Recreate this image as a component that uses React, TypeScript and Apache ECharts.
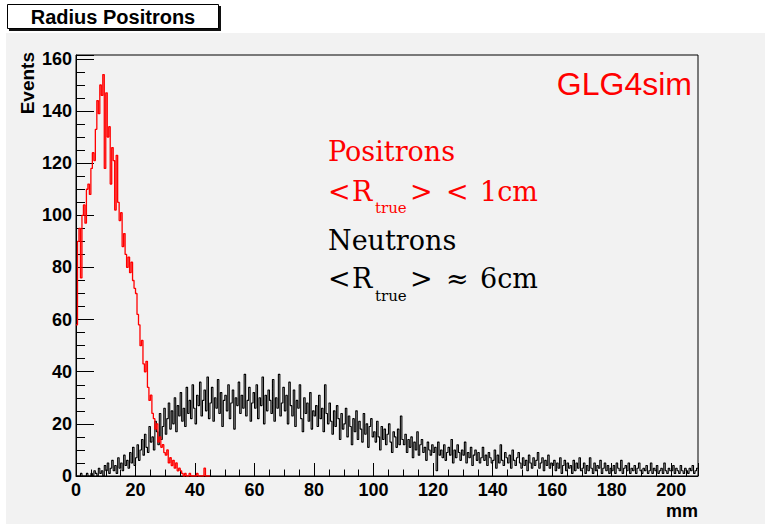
import React, { useEffect, useRef } from "react";
import * as echarts from "echarts";

// Positron radius histogram (0.5 mm bins, 0–45 mm)
const positronBin = 0.5;
const positrons = [
  58, 90, 95, 76, 100, 104, 97, 110, 112, 108,
  118, 124, 121, 133, 144, 139, 150, 146, 154, 118,
  147, 130, 134, 112, 126, 121, 102, 123, 105, 98,
  101, 88, 93, 85, 80, 84, 78, 82, 75, 72,
  70, 62, 58, 50, 52, 43, 40, 44, 34, 29,
  31, 24, 22, 18, 20, 13, 15, 11, 12, 9,
  8, 10, 5, 7, 4, 6, 3, 5, 2, 3,
  2, 1, 0, 1, 0, 0, 1, 0, 0, 0,
  0, 1, 0, 0, 0, 0, 3, 0, 0, 0,
];

// Neutron radius histogram (0.5 mm bins, 0–209 mm)
const neutronBin = 0.5;
const neutrons = [
  0, 0, 0, 1, 0, 0, 0, 1, 0, 0, 1, 0, 2, 1, 0, 3, 1, 2, 0, 4,
  2, 5, 1, 3, 6, 2, 4, 1, 7, 3, 5, 2, 8, 4, 6, 3, 9, 5, 11, 4,
  7, 12, 6, 10, 14, 8, 16, 11, 9, 19, 13, 15, 10, 21, 17, 12, 24, 14, 19, 26,
  16, 22, 28, 18, 25, 20, 30, 17, 27, 23, 32, 21, 26, 19, 34, 24, 29, 22, 35, 26,
  20, 31, 27, 36, 23, 29, 33, 25, 38, 22, 28, 34, 21, 30, 26, 37, 24, 32, 19, 29,
  31, 25, 35, 22, 28, 33, 18, 30, 27, 36, 24, 31, 26, 39, 23, 29, 34, 21, 28, 32,
  26, 35, 22, 30, 27, 38, 20, 31, 25, 33, 29, 24, 37, 21, 30, 26, 39, 23, 28, 34,
  25, 31, 20, 36, 27, 23, 33, 19, 29, 26, 35, 22, 17, 30, 24, 28, 21, 32, 18, 25,
  23, 27, 19, 31, 22, 26, 17, 35, 24, 20, 28, 21, 16, 25, 19, 27, 22, 14, 24, 18,
  20, 26, 15, 23, 19, 12, 22, 17, 25, 14, 21, 18, 13, 24, 16, 20, 11, 19, 22, 15,
  17, 13, 21, 15, 10, 19, 14, 18, 12, 16, 20, 13, 9, 17, 15, 11, 18, 12, 23, 14,
  12, 16, 9, 14, 11, 15, 7, 13, 10, 17, 8, 12, 14, 9, 11, 6, 13, 10, 8, 12,
  9, 11, 2, 13, 8, 10, 7, 12, 6, 9, 11, 8, 14, 5, 10, 7, 12, 9, 6, 10,
  8, 13, 5, 9, 7, 11, 4, 8, 10, 6, 9, 5, 7, 11, 6, 8, 4, 9, 7, 5,
  6, 10, 3, 8, 5, 12, 6, 4, 9, 7, 5, 8, 3, 10, 6, 4, 7, 9, 5, 3,
  7, 4, 6, 2, 8, 5, 3, 7, 4, 6, 9, 3, 5, 7, 2, 6, 4, 8, 3, 5,
  4, 6, 2, 5, 3, 7, 1, 4, 6, 2, 5, 3, 4, 1, 6, 2, 5, 3, 7, 2,
  3, 5, 1, 4, 2, 7, 3, 1, 5, 2, 4, 3, 6, 1, 3, 5, 2, 4, 1, 3,
  2, 4, 1, 5, 3, 2, 6, 1, 3, 4, 2, 5, 1, 3, 2, 4, 1, 3, 5, 2,
  1, 3, 2, 4, 1, 2, 5, 1, 3, 2, 4, 1, 2, 3, 1, 5, 2, 1, 3, 2,
  2, 4, 1, 3, 2, 1, 4, 2, 1, 3, 2, 1, 3, 2, 4, 1, 2, 3,
];

const xMax = 209;
const yMax = 161.5;
const xLabelMax = 200;
const yLabelMax = 160;
const tickStep = 20;

function toSteps(vals: number[], w: number): number[][] {
  const d = vals.map((v, i) => [i * w, v]);
  d.push([vals.length * w, vals[vals.length - 1]]);
  return d;
}

const labelFont = "'Liberation Sans', Arial, sans-serif";
const serifFont = "'DejaVu Serif', serif";

function txt(x: number, y: number, text: string, fill: string, font: string, align = "left") {
  return { type: "text", z: 12, x, y, style: { text, fill, font, align, verticalAlign: "middle" } };
}

export default function App() {
  const ref = useRef<HTMLDivElement>(null);
  useEffect(() => {
    if (!ref.current) return;
    const chart = echarts.init(ref.current, undefined, { renderer: "svg" });
    const fmt = (limit: number) => (v: number) =>
      Math.abs(v % tickStep) < 1e-9 && v <= limit ? String(v) : "";
    const big = `27px ${serifFont}`;
    const sub = `15px ${serifFont}`;
    chart.setOption({
      animation: false,
      backgroundColor: "#ffffff",
      grid: {
        left: 76,
        top: 55,
        right: 67,
        bottom: 48,
        show: true,
        backgroundColor: "#f2f2f2",
        borderColor: "#000",
        borderWidth: 1,
      },
      xAxis: {
        type: "value",
        min: 0,
        max: xMax,
        interval: tickStep,
        axisLine: { show: true, onZero: false, lineStyle: { color: "#000", width: 1 } },
        axisTick: { show: true, inside: true, length: 13, lineStyle: { color: "#000" } },
        minorTick: { show: true, splitNumber: 4, length: 6.5, lineStyle: { color: "#000" } },
        splitLine: { show: false },
        axisLabel: {
          formatter: fmt(xLabelMax),
          color: "#000",
          fontFamily: labelFont,
          fontWeight: "bold",
          fontSize: 18,
          margin: 5,
        },
      },
      yAxis: {
        type: "value",
        min: 0,
        max: yMax,
        interval: tickStep,
        axisLine: { show: true, onZero: false, lineStyle: { color: "#000", width: 1 } },
        axisTick: { show: true, inside: true, length: 18, lineStyle: { color: "#000" } },
        minorTick: { show: true, splitNumber: 4, length: 9, lineStyle: { color: "#000" } },
        splitLine: { show: false },
        axisLabel: {
          formatter: fmt(yLabelMax),
          color: "#000",
          fontFamily: labelFont,
          fontWeight: "bold",
          fontSize: 18,
          margin: 4,
        },
      },
      series: [
        {
          name: "Neutrons",
          type: "line",
          step: "end",
          showSymbol: false,
          data: toSteps(neutrons, neutronBin),
          lineStyle: { color: "#000", width: 1.1 },
          itemStyle: { color: "#000" },
          z: 2,
        },
        {
          name: "Positrons",
          type: "line",
          step: "end",
          showSymbol: false,
          data: toSteps(positrons, positronBin),
          lineStyle: { color: "#ff0000", width: 1.3 },
          itemStyle: { color: "#ff0000" },
          z: 3,
        },
      ],
      graphic: [
        { type: "rect", z: -10, silent: true, shape: { x: 6, y: 33, width: 759, height: 491 }, style: { fill: "#f2f2f2" } },
        { type: "rect", z: 10, shape: { x: 9, y: 6, width: 212, height: 25 }, style: { fill: "#111" } },
        { type: "rect", z: 11, shape: { x: 7.5, y: 4.5, width: 211, height: 24 }, style: { fill: "#fff", stroke: "#000", lineWidth: 1 } },
        txt(113, 17, "Radius Positrons", "#000", `bold 20px ${labelFont}`, "center"),
        {
          type: "text", z: 12, x: 27, y: 52, rotation: Math.PI / 2,
          style: { text: "Events", fill: "#000", font: `bold 19px ${labelFont}`, align: "right", verticalAlign: "middle" },
        },
        txt(698, 511, "mm", "#000", `bold 18px ${labelFont}`, "right"),
        txt(692, 84, "GLG4sim", "#ff0000", `32px ${labelFont}`, "right"),
        txt(328, 151, "Positrons", "#ff0000", big),
        txt(328, 191, "<", "#ff0000", big),
        txt(352, 191, "R", "#ff0000", big),
        txt(375, 208, "true", "#ff0000", sub),
        txt(410, 191, ">", "#ff0000", big),
        txt(446, 191, "<", "#ff0000", big),
        txt(480, 191, "1cm", "#ff0000", big),
        txt(328, 240, "Neutrons", "#000", big),
        txt(328, 278, "<", "#000", big),
        txt(352, 278, "R", "#000", big),
        txt(375, 296, "true", "#000", sub),
        txt(410, 278, ">", "#000", big),
        txt(446, 278, "\u2248", "#000", big),
        txt(480, 278, "6cm", "#000", big),
      ],
    });
    return () => chart.dispose();
  }, []);
  return (
    <div
      ref={ref}
      style={{ position: "fixed", left: 0, top: 0, width: 765, height: 524 }}
    />
  );
}
